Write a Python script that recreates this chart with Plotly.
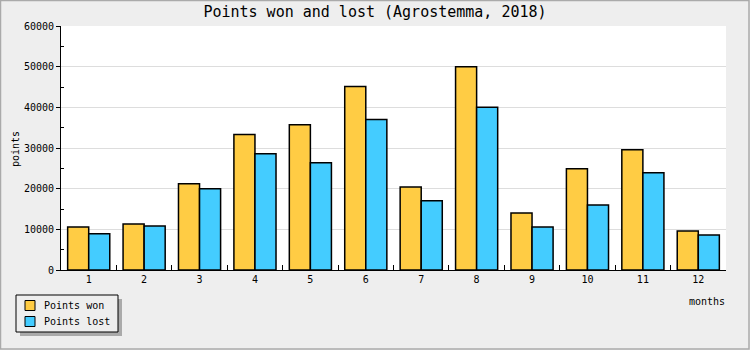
import plotly.graph_objects as go

months = ["1", "2", "3", "4", "5", "6", "7", "8", "9", "10", "11", "12"]
points_won = [10600, 11300, 21200, 33300, 35700, 45100, 20400, 50000, 14000, 24900, 29600, 9600]
points_lost = [8900, 10800, 20000, 28600, 26400, 37000, 17000, 40000, 10600, 16000, 23900, 8600]
y_ticks = [0, 10000, 20000, 30000, 40000, 50000, 60000]
y_tick_text = ["0", "10000", "20000", "30000", "40000", "50000", "60000"]
series_names = ["Points won", "Points lost"]
series_colors = ["#ffcc44", "#44ccff"]

FONT = "DejaVu Sans Mono"
W, H = 750, 350
L, R, T, B = 61, 24, 26, 80
PW, PH = W - L - R, H - T - B


def px(x):
    return (x - L) / PW


def py(y):
    return (H - B - y) / PH


fig = go.Figure()
for name, vals, col in zip(series_names, [points_won, points_lost], series_colors):
    fig.add_trace(go.Bar(x=months, y=vals, name=name, showlegend=False,
                         marker=dict(color=col, line=dict(color="black", width=1.5))))

fig.update_layout(
    width=W, height=H,
    margin=dict(l=L, r=R, t=T, b=B, autoexpand=False),
    paper_bgcolor="#eeeeee",
    plot_bgcolor="white",
    barmode="group", bargap=0.24, bargroupgap=0,
    font=dict(family=FONT, size=10, color="black"),
    title=dict(text="Points won and lost (Agrostemma, 2018)", x=0.5, xref="container",
               xanchor="center", y=1 - 12 / H, yref="container", yanchor="middle",
               font=dict(family=FONT, size=15, color="black")),
    xaxis=dict(type="category", tickson="boundaries", ticks="inside", ticklen=5,
               tickcolor="black", showline=True, linecolor="black", linewidth=1,
               showgrid=False, tickfont=dict(size=10)),
    yaxis=dict(range=[0, 60000], tickvals=y_ticks, ticktext=y_tick_text,
               ticks="outside", ticklen=4,
               tickcolor="black", showline=True, linecolor="black", linewidth=1,
               showgrid=True, gridcolor="#dddddd", gridwidth=1, zeroline=False,
               tickfont=dict(size=10),
               minor=dict(tickvals=[5000, 15000, 25000, 35000, 45000, 55000],
                          ticks="inside", ticklen=3, tickcolor="black", showgrid=False)),
    showlegend=False,
)

fig.add_annotation(text="points", x=px(15), y=py(149), xref="paper", yref="paper",
                   xanchor="center", yanchor="middle",
                   showarrow=False, textangle=-90, font=dict(family=FONT, size=10))
fig.add_annotation(text="months", x=px(706.5), y=py(301), xref="paper", yref="paper",
                   xanchor="center", yanchor="middle",
                   showarrow=False, font=dict(family=FONT, size=10))

# legend shadow and box
fig.add_shape(type="rect", xref="paper", yref="paper",
              x0=px(20), x1=px(122), y0=py(336), y1=py(299),
              fillcolor="#aaaaaa", line=dict(width=0))
fig.add_shape(type="rect", xref="paper", yref="paper",
              x0=px(16), x1=px(118), y0=py(332), y1=py(295),
              fillcolor="#eeeeee", line=dict(color="black", width=1))
for i, (name, col) in enumerate(zip(series_names, series_colors)):
    top = 300.5 + 16 * i
    fig.add_shape(type="rect", xref="paper", yref="paper",
                  x0=px(25), x1=px(35), y0=py(top + 10), y1=py(top),
                  fillcolor=col, line=dict(color="black", width=1))
    fig.add_annotation(text=name, x=px(42), y=py(top + 5), xref="paper", yref="paper",
                       xanchor="left", yanchor="middle", showarrow=False,
                       font=dict(family=FONT, size=10))

# outer border
fig.add_shape(type="rect", xref="paper", yref="paper",
              x0=px(0.5), x1=px(749), y0=py(349), y1=py(0.5),
              line=dict(color="#aaaaaa", width=1.5), fillcolor="rgba(0,0,0,0)")

fig.write_html("out.html")
